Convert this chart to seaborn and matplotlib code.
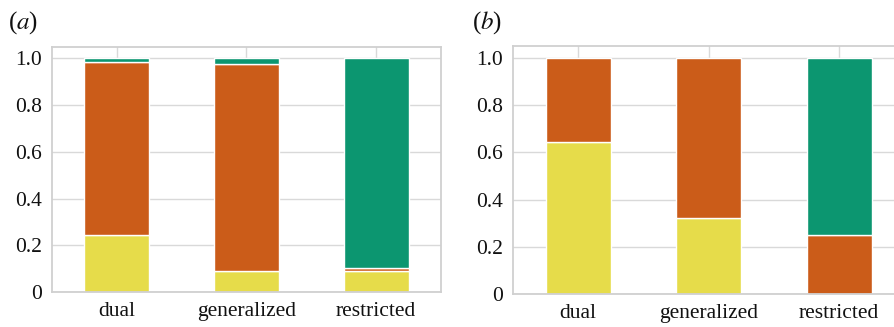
import matplotlib
matplotlib.use("Agg")
import matplotlib.pyplot as plt
import seaborn as sns
import pandas as pd

categories = ["dual", "generalized", "restricted"]

# panel (a)
a_yellow = [0.243, 0.089, 0.090]
a_orange = [0.740, 0.885, 0.013]
a_green = [0.017, 0.026, 0.897]

# panel (b)
b_yellow = [0.644, 0.322, 0.0]
b_orange = [0.356, 0.678, 0.251]
b_green = [0.0, 0.0, 0.749]

ytick_vals = [0, 0.2, 0.4, 0.6, 0.8, 1.0]
ytick_labels = ["0", "0.2", "0.4", "0.6", "0.8", "1.0"]

colors = {"yellow": "#E6DC4A", "orange": "#CB5C19", "green": "#0C9670"}

sns.set_theme(style="whitegrid")
plt.rcParams["font.family"] = ["Liberation Serif", "DejaVu Serif"]
plt.rcParams["mathtext.fontset"] = "stix"
plt.rcParams["axes.edgecolor"] = "#d0d0d0"
plt.rcParams["grid.color"] = "#d9d9d9"

fig = plt.figure(figsize=(8.95, 3.27), dpi=100)
ax_a = fig.add_axes([52 / 895, 35 / 327, 389 / 895, 245.3 / 327])
ax_b = fig.add_axes([513 / 895, 33 / 327, 391.5 / 895, 248 / 327])


def draw(ax, segs):
    bottom = [0.0] * len(categories)
    for name, vals in segs:
        df = pd.DataFrame({"cat": categories, "val": vals, "bottom": bottom})
        df = df[df["val"] > 0]
        sns.barplot(data=df, x="cat", y="val", order=categories, color=colors[name],
                    saturation=1, width=0.5, edgecolor="white", linewidth=1.0,
                    bottom=df["bottom"].values, ax=ax)
        bottom = [b + v for b, v in zip(bottom, vals)]
    ax.set_xlim(-0.5, 2.5)
    ax.set_ylim(0, 1.05)
    ax.set_yticks(ytick_vals)
    ax.set_yticklabels(ytick_labels)
    ax.xaxis.grid(True)
    ax.yaxis.grid(True)
    ax.set_axisbelow(True)
    ax.set_xlabel("")
    ax.set_ylabel("")
    ax.tick_params(axis="both", labelsize=15.5, length=0, colors="#111111", pad=7)
    for s in ax.spines.values():
        s.set_linewidth(1.3)


draw(ax_a, [("yellow", a_yellow), ("orange", a_orange), ("green", a_green)])
draw(ax_b, [("yellow", b_yellow), ("orange", b_orange), ("green", b_green)])

fig.text(8 / 895, 1 - 23 / 327, r"($a$)", fontsize=18, va="center", ha="left", color="#111111")
fig.text(472 / 895, 1 - 23 / 327, r"($b$)", fontsize=18, va="center", ha="left", color="#111111")

fig.savefig("out.png", dpi=100)
